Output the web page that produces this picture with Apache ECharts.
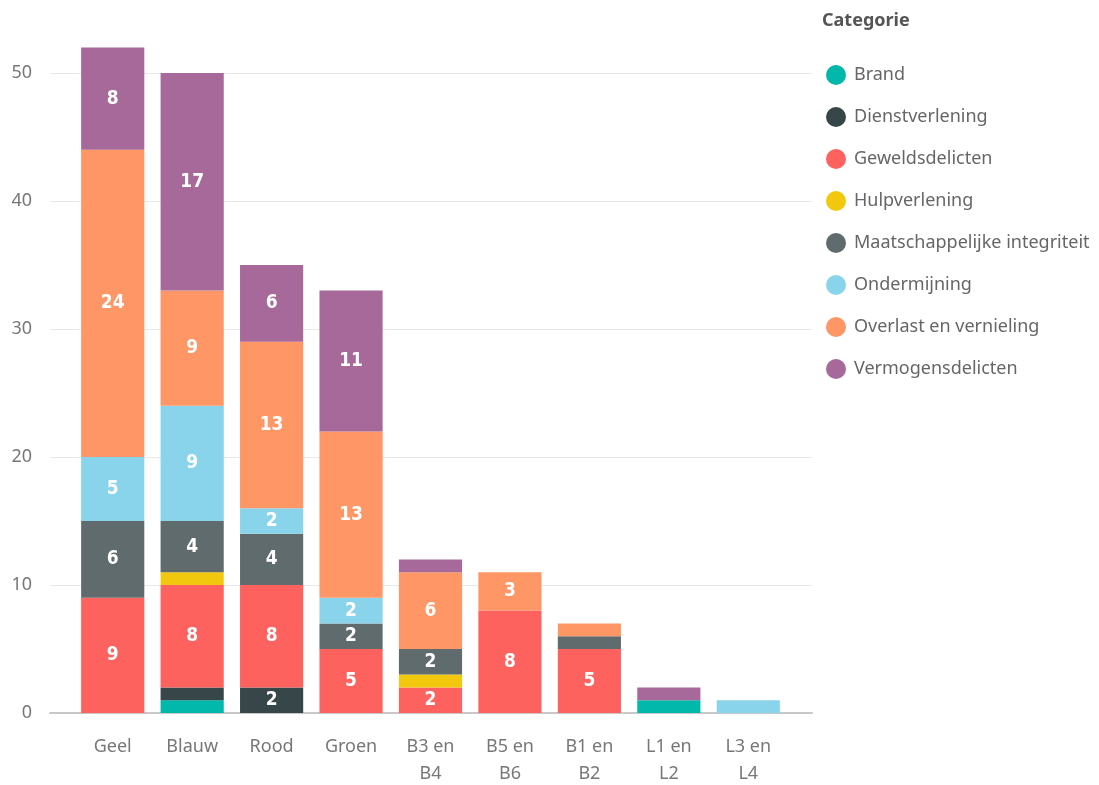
<!DOCTYPE html>
<html>
<head>
<meta charset="utf-8">
<style>
  html, body { margin: 0; padding: 0; background: #ffffff; }
  #chart { width: 1099px; height: 785px; }
</style>
<script src="https://cdn.jsdelivr.net/npm/echarts@6/dist/echarts.min.js"></script>
</head>
<body>
<div id="chart"></div>
<script>
// Districts along the x axis
const categories = ['Geel', 'Blauw', 'Rood', 'Groen', 'B3 en B4', 'B5 en B6', 'B1 en B2', 'L1 en L2', 'L3 en L4'];

// Incident counts per category, stacked bottom to top
const brand             = [0, 1, 0, 0, 0, 0, 0, 1, 0];
const dienstverlening   = [0, 1, 2, 0, 0, 0, 0, 0, 0];
const geweldsdelicten   = [9, 8, 8, 5, 2, 8, 5, 0, 0];
const hulpverlening     = [0, 1, 0, 0, 1, 0, 0, 0, 0];
const maatschappelijk   = [6, 4, 4, 2, 2, 0, 1, 0, 0];
const ondermijning      = [5, 9, 2, 2, 0, 0, 0, 0, 1];
const overlast          = [24, 9, 13, 13, 6, 3, 1, 0, 0];
const vermogensdelicten = [8, 17, 6, 11, 1, 0, 0, 1, 0];

const yTicks = [0, 10, 20, 30, 40, 50];

const seriesDefs = [
  { name: 'Brand', data: brand, color: '#01B8AA' },
  { name: 'Dienstverlening', data: dienstverlening, color: '#374649' },
  { name: 'Geweldsdelicten', data: geweldsdelicten, color: '#FD625E' },
  { name: 'Hulpverlening', data: hulpverlening, color: '#F2C80F' },
  { name: 'Maatschappelijke integriteit', data: maatschappelijk, color: '#5F6B6D' },
  { name: 'Ondermijning', data: ondermijning, color: '#8AD4EB' },
  { name: 'Overlast en vernieling', data: overlast, color: '#FE9666' },
  { name: 'Vermogensdelicten', data: vermogensdelicten, color: '#A66999' }
];

const uiFont = '"Segoe UI", "Noto Sans", sans-serif';
const yMax = 55;

const chart = echarts.init(document.getElementById('chart'), null, { renderer: 'canvas' });

chart.setOption({
  animation: false,
  backgroundColor: '#ffffff',
  title: {
    text: 'Categorie',
    left: 817,
    top: 7,
    textStyle: { fontFamily: uiFont, fontSize: 18, fontWeight: 'bold', color: '#555555' }
  },
  legend: {
    orient: 'vertical',
    left: 821,
    top: 60,
    icon: 'circle',
    itemWidth: 20,
    itemHeight: 20,
    itemGap: 22,
    textStyle: { fontFamily: uiFont, fontSize: 18, color: '#666666', padding: [0, 0, 0, 3] },
    data: seriesDefs.map(s => s.name)
  },
  grid: [
    // frame with gridlines and the baseline
    { left: 50, right: 287, top: 9, bottom: 72, containLabel: false, outerBoundsMode: 'none' },
    // inset area holding the bars
    { left: 73, right: 311, top: 9, bottom: 72, containLabel: false, outerBoundsMode: 'none' }
  ],
  xAxis: [
    {
      gridIndex: 0,
      type: 'category',
      data: [''],
      axisLine: { show: true, lineStyle: { color: '#c8c8c8', width: 2 } },
      axisTick: { show: false },
      axisLabel: { show: false }
    },
    {
      gridIndex: 1,
      type: 'category',
      data: categories,
      axisLine: { show: false },
      axisTick: { show: false },
      axisLabel: {
        margin: 20,
        fontFamily: uiFont,
        fontSize: 18,
        color: '#777777',
        lineHeight: 27,
        interval: 0,
        formatter: v => v.replace(/ en /, ' en\n')
      }
    }
  ],
  yAxis: [
    {
      gridIndex: 0,
      type: 'value',
      min: yTicks[0],
      max: yMax,
      interval: 10,
      axisLine: { show: false },
      axisTick: { show: false },
      splitLine: { show: true, showMaxLine: false, lineStyle: { color: '#e8e8e8', width: 1 } },
      axisLabel: {
        margin: 18,
        fontFamily: uiFont,
        fontSize: 18,
        color: '#777777',
        showMaxLabel: false,
        formatter: v => (yTicks.indexOf(v) >= 0 ? String(v) : '')
      }
    },
    {
      gridIndex: 1,
      type: 'value',
      min: yTicks[0],
      max: yMax,
      interval: 10,
      show: false,
      splitLine: { show: false }
    }
  ],
  series: seriesDefs.map(s => ({
    name: s.name,
    type: 'bar',
    xAxisIndex: 1,
    yAxisIndex: 1,
    stack: 'total',
    data: s.data,
    barCategoryGap: '20.5%',
    itemStyle: { color: s.color },
    label: {
      show: true,
      position: 'inside',
      color: '#ffffff',
      fontFamily: '"DejaVu Sans Condensed", "DejaVu Sans", sans-serif',
      fontWeight: 'bold',
      fontSize: 19,
      formatter: p => (p.value >= 2 ? String(p.value) : '')
    }
  }))
});
</script>
</body>
</html>
